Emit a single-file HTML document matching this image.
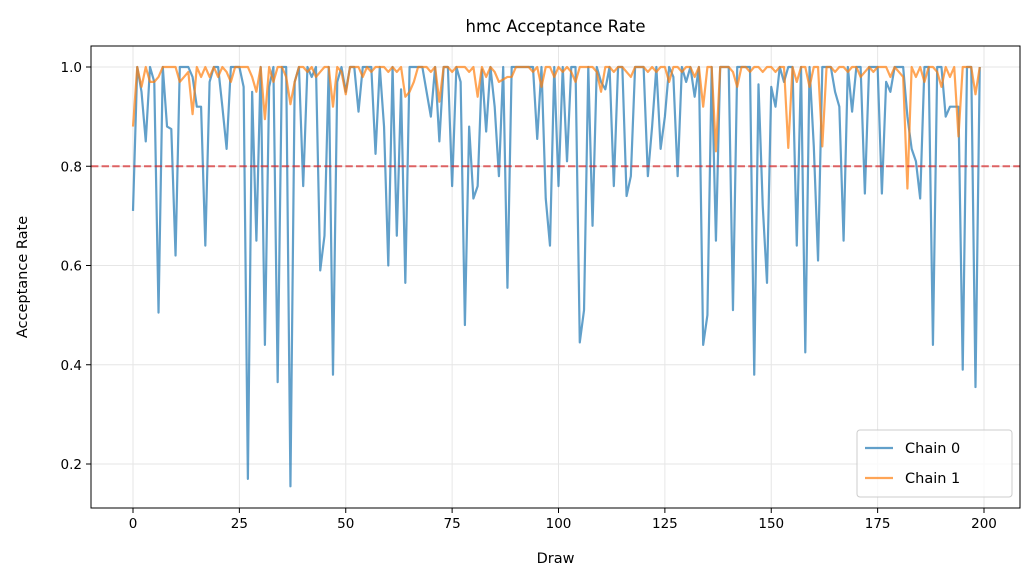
<!DOCTYPE html>
<html><head><meta charset="utf-8"><style>
body{margin:0;background:#fff;}
svg{display:block;font-family:"DejaVu Sans","Liberation Sans",sans-serif;}
</style></head><body>
<svg id="chart" width="1036" height="586"></svg>
<script>
const xTicks=[0,25,50,75,100,125,150,175,200];
const yTicks=[0.2,0.4,0.6,0.8,1.0];
const yTickLabels=["0.2","0.4","0.6","0.8","1.0"];
const targetRate=0.8;
const chain0=[0.71,1.0,0.95,0.85,1.0,0.97,0.505,1.0,0.88,0.875,0.62,1.0,1.0,1.0,0.98,0.92,0.92,0.64,0.97,1.0,
1.0,0.92,0.835,1.0,1.0,1.0,0.96,0.17,0.95,0.65,1.0,0.44,0.96,1.0,0.365,1.0,1.0,0.155,0.97,1.0,
0.76,1.0,0.98,1.0,0.59,0.66,1.0,0.38,0.97,1.0,0.95,1.0,1.0,0.91,1.0,1.0,1.0,0.825,1.0,0.88,
0.60,1.0,0.66,0.955,0.565,1.0,1.0,1.0,1.0,0.95,0.90,1.0,0.85,1.0,1.0,0.76,1.0,0.97,0.48,0.88,
0.735,0.76,0.995,0.87,1.0,0.92,0.78,1.0,0.555,1.0,1.0,1.0,1.0,1.0,1.0,0.855,1.0,0.735,0.64,1.0,
0.76,1.0,0.81,1.0,1.0,0.445,0.51,1.0,0.68,1.0,0.97,0.955,1.0,0.76,1.0,1.0,0.74,0.78,1.0,1.0,
1.0,0.78,0.88,1.0,0.835,0.90,1.0,0.98,0.78,1.0,0.97,1.0,0.94,1.0,0.44,0.50,1.0,0.65,1.0,1.0,
1.0,0.51,1.0,1.0,1.0,1.0,0.38,0.965,0.72,0.565,0.96,0.92,1.0,0.97,1.0,1.0,0.64,1.0,0.425,1.0,
0.84,0.61,1.0,1.0,1.0,0.95,0.92,0.65,1.0,0.91,1.0,1.0,0.745,1.0,1.0,1.0,0.745,0.97,0.95,1.0,
1.0,1.0,0.90,0.835,0.81,0.735,1.0,1.0,0.44,1.0,1.0,0.90,0.92,0.92,0.92,0.39,1.0,1.0,0.355,1.0];
const chain1=[0.88,1.0,0.96,1.0,0.97,0.97,0.98,1.0,1.0,1.0,1.0,0.97,0.98,0.99,0.905,1.0,0.98,1.0,0.98,1.0,
0.98,1.0,0.99,0.97,1.0,1.0,1.0,1.0,0.98,0.95,1.0,0.895,1.0,0.97,1.0,1.0,0.98,0.925,0.97,1.0,
1.0,0.99,1.0,0.98,0.99,1.0,1.0,0.92,1.0,0.99,0.945,1.0,1.0,1.0,0.98,1.0,0.99,1.0,1.0,1.0,
0.99,1.0,0.99,1.0,0.94,0.95,0.97,1.0,1.0,1.0,0.99,1.0,0.93,1.0,1.0,0.99,1.0,1.0,1.0,0.99,
1.0,0.94,1.0,0.98,1.0,0.99,0.97,0.975,0.98,0.98,1.0,1.0,1.0,1.0,0.99,1.0,0.96,1.0,1.0,0.98,
1.0,0.99,1.0,0.99,0.97,1.0,1.0,1.0,1.0,0.99,0.95,1.0,1.0,0.99,1.0,1.0,0.99,0.98,1.0,1.0,
1.0,0.99,1.0,0.99,1.0,1.0,0.97,1.0,1.0,0.99,1.0,1.0,0.98,1.0,0.92,1.0,1.0,0.83,1.0,1.0,
1.0,0.99,0.96,1.0,1.0,0.99,1.0,1.0,0.99,1.0,1.0,0.99,1.0,1.0,0.837,1.0,0.97,1.0,1.0,0.96,
1.0,1.0,0.84,1.0,1.0,0.99,1.0,1.0,0.99,1.0,1.0,0.98,0.99,1.0,0.99,1.0,1.0,1.0,0.98,1.0,
0.99,0.98,0.755,1.0,0.98,1.0,0.97,1.0,1.0,0.99,0.96,1.0,0.98,1.0,0.86,1.0,1.0,1.0,0.945,1.0];

const NS="http://www.w3.org/2000/svg";
const svg=document.getElementById('chart');
const L=91,T=46,R=1020,B=508;
const xs=v=>133+v*4.255;
const ys=v=>67+(1-v)*496.25;
function mk(tag,attrs,parent){const e=document.createElementNS(NS,tag);for(const k in attrs)e.setAttribute(k,attrs[k]);(parent||svg).appendChild(e);return e;}

xTicks.forEach(t=>{
  const g=mk('line',{x1:xs(t),x2:xs(t),y1:T,y2:B,stroke:'#e6e6e6','stroke-width':1});
  
  
  const tk=mk('line',{x1:xs(t),x2:xs(t),y1:B,y2:B+5,stroke:'#000','stroke-width':1});
  
  
  const tx=mk('text',{x:xs(t),y:B+20,'text-anchor':'middle','font-size':13.5,fill:'#000'});
  tx.textContent=String(t);
  
  
});
yTicks.forEach((t,i)=>{
  const g=mk('line',{x1:L,x2:R,y1:ys(t),y2:ys(t),stroke:'#e6e6e6','stroke-width':1});
  
  
  const tk=mk('line',{x1:L-5,x2:L,y1:ys(t),y2:ys(t),stroke:'#000','stroke-width':1});
  
  
  const tx=mk('text',{x:L-9,y:ys(t)+5,'text-anchor':'end','font-size':13.5,fill:'#000'});
  tx.textContent=yTickLabels[i];
  
  
});

function series(data,color,name){
  const d=data.map((v,i)=>(i?'L':'M')+xs(i).toFixed(2)+','+ys(v).toFixed(2)).join('');
  const p=mk('path',{d:d,fill:'none',stroke:color,'stroke-opacity':0.7,'stroke-width':2.2,'stroke-linejoin':'round'});
  
  
}
series(chain0,'#1f77b4','chain-0-line');
series(chain1,'#ff7f0e','chain-1-line');

const tl=mk('line',{x1:L,x2:R,y1:ys(targetRate),y2:ys(targetRate),stroke:'#d62728','stroke-opacity':0.7,'stroke-width':2,'stroke-dasharray':'7.4,3.2'});



const fr=mk('rect',{x:L,y:T,width:R-L,height:B-T,fill:'none',stroke:'#000','stroke-width':1});



const title=mk('text',{x:(L+R)/2,y:32,'text-anchor':'middle','font-size':16.5,fill:'#000'});
title.textContent='hmc Acceptance Rate';


const xl=mk('text',{x:(L+R)/2,y:563,'text-anchor':'middle','font-size':14.5,fill:'#000'});
xl.textContent='Draw';


const yl=mk('text',{x:0,y:0,'text-anchor':'middle','font-size':14.5,fill:'#000',transform:'translate(27,277) rotate(-90)'});
yl.textContent='Acceptance Rate';



const lg=mk('g',{});


mk('rect',{x:857,y:430,width:155,height:67,rx:3,fill:'#fff','fill-opacity':0.8,stroke:'#ccc'},lg);
[['Chain 0','#1f77b4'],['Chain 1','#ff7f0e']].forEach((e,i)=>{
  const y=448+i*30;
  const ln=mk('line',{x1:865,x2:893,y1:y,y2:y,stroke:e[1],'stroke-opacity':0.7,'stroke-width':2.2},lg);
  
  
  const t=mk('text',{x:905,y:y+5,'font-size':14.5,fill:'#000'},lg);
  t.textContent=e[0];
  
  
});
</script>
</body></html>
